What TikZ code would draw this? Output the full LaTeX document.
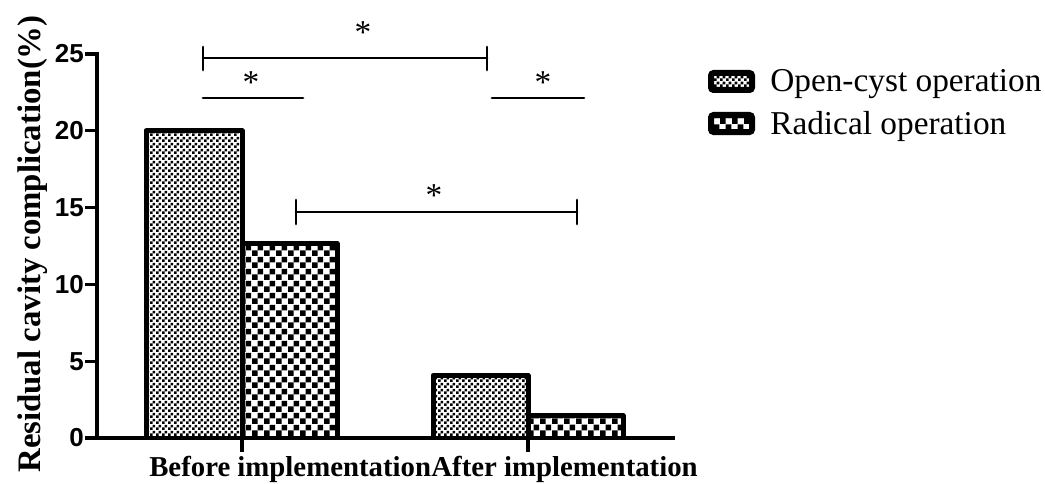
\documentclass[tikz,border=0pt]{standalone}
\usepackage{fontspec}
\setmainfont{Liberation Serif}
\newfontfamily\tickfont{Liberation Sans}
\usetikzlibrary{calc,patterns.meta}

\tikzdeclarepattern{
  name=finecheck,
  bottom left={(0pt,0pt)},
  top right={(4.5pt,4.5pt)},
  tile size={(4.5pt,4.5pt)},
  code={
    \fill (0pt,0pt) rectangle (2.25pt,2.25pt);
    \fill (2.25pt,2.25pt) rectangle (4.5pt,4.5pt);
  }
}
\tikzdeclarepattern{
  name=coarsecheck,
  bottom left={(0pt,0pt)},
  top right={(9pt,9pt)},
  tile size={(9pt,9pt)},
  code={
    \fill (0pt,0pt) rectangle (4.5pt,4.5pt);
    \fill (4.5pt,4.5pt) rectangle (9pt,9pt);
  }
}

\tikzset{
  axis/.style={line width=2.4pt, line cap=rect},
  barline/.style={line width=3.75pt, line join=round},
  opencyst/.style={pattern=finecheck, pattern color=black},
  radical/.style={pattern=coarsecheck, pattern color=black},
  sigline/.style={line width=2.2pt, line cap=round},
  star/.style={font=\fontsize{25}{25}\selectfont, anchor=base},
  keybox/.style={line width=4.5pt, rounded corners=2pt}
}

\begin{document}
\begin{tikzpicture}[x=0.75pt, y=0.75pt, every node/.style={inner sep=0pt}]
  \useasboundingbox (0,0) rectangle (1045,483);
  \coordinate (o) at (97,45);
  \coordinate (yT) at (97,429);
  \coordinate (xR) at (673,45);
  \coordinate (c1) at (242,45);
  \coordinate (c2) at (528,45);

  \fill[opencyst] (146,45) rectangle (242,352.2);
  \fill[radical] (242,45) rectangle (337,239.5);
  \fill[opencyst] (433,45) rectangle (528,107.5);
  \fill[radical] (528,45) rectangle (623,67.4);
  \draw[barline] (146,45) |- (242,352.2) -- (c1);
  \draw[barline] (c1) |- (337,239.5) -- (337,45);
  \draw[barline] (433,45) |- (528,107.5) -- (c2);
  \draw[barline] (c2) |- (623,67.4) -- (623,45);

  \draw[axis] (yT) -- (o) -- (xR);
  \foreach \v in {0,5,...,25} {
    \draw[axis] (97,{45+15.36*\v}) -- (87,{45+15.36*\v});
    \node[anchor=east, font=\tickfont\bfseries\fontsize{19.5}{20}\selectfont] (t\v) at (84,{45+15.36*\v}) {\v};
  }
  \draw[axis] (c1) -- ++(0,-12);
  \draw[axis] (c2) -- ++(0,-12);

  \node[anchor=base west, font=\bfseries\fontsize{21.6}{22}\selectfont] (before) at (149,7) {Before implementation};
  \node[anchor=base east, font=\bfseries\fontsize{21.6}{22}\selectfont] (after) at (698,7) {After implementation};
  \node[rotate=90, anchor=base, font=\bfseries\fontsize{24.6}{25}\selectfont] (ylab) at (40,239) {Residual cavity complication(\%)};

  \coordinate (aL) at (203,425);
  \coordinate (aR) at (487,425);
  \draw[sigline] (aL) -- (aR);
  \draw[sigline] ($(aL)+(0,11)$) -- ($(aL)+(0,-12)$);
  \draw[sigline] ($(aR)+(0,11)$) -- ($(aR)+(0,-12)$);
  \node[star] (sA) at (363,439.5) {*};

  \coordinate (bL) at (203,385);
  \coordinate (bR) at (303,385);
  \draw[sigline] (bL) -- (bR);
  \node[star] (sB) at (251,389.5) {*};

  \coordinate (cL) at (492,385);
  \coordinate (cR) at (584,385);
  \draw[sigline] (cL) -- (cR);
  \node[star] (sC) at (543,389.5) {*};

  \coordinate (dL) at (296,271);
  \coordinate (dR) at (577,271);
  \draw[sigline] (dL) -- (dR);
  \draw[sigline] ($(dL)+(0,12)$) -- ($(dL)+(0,-12)$);
  \draw[sigline] ($(dR)+(0,12)$) -- ($(dR)+(0,-12)$);
  \node[star] (sD) at (434,276.5) {*};

  \filldraw[keybox, opencyst] (711,393) rectangle (752,410);
  \filldraw[keybox, radical] (711,351) rectangle (752,368);
  \node[anchor=base west, font=\fontsize{25}{25}\selectfont] (k1) at (770,392) {Open-cyst operation};
  \node[anchor=base west, font=\fontsize{25}{25}\selectfont] (k2) at (770,349) {Radical operation};
\end{tikzpicture}
\end{document}
